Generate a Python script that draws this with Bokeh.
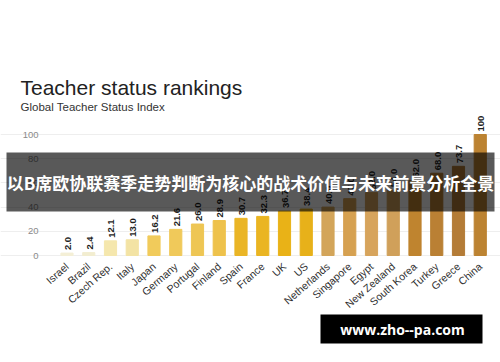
from bokeh.plotting import figure
from bokeh.models import Range1d, FixedTicker, Label, BoxAnnotation, ColumnDataSource
from bokeh.embed import file_html
from bokeh.resources import INLINE
from bokeh.core.properties import value

countries = ["Israel", "Brazil", "Czech Rep.", "Italy", "Japan", "Germany", "Portugal",
             "Finland", "Spain", "France", "UK", "US", "Netherlands", "Singapore", "Egypt",
             "New Zealand", "South Korea", "Turkey", "Greece", "China"]
index_values = [2.0, 2.4, 12.1, 13.0, 16.2, 21.6, 26.0, 28.9, 30.7, 32.3, 36.7, 38.4,
                40.0, 47.0, 52.0, 54.0, 62.0, 68.0, 73.7, 100.0]
value_labels = ["2.0", "2.4", "12.1", "13.0", "16.2", "21.6", "26.0", "28.9", "30.7", "32.3",
                "36.7", "38.4", "40.0", "47.0", "52.0", "54.0", "62.0", "68.0", "73.7", "100"]
y_ticks = [0, 20, 40, 60, 80, 100]
title_text = "Teacher status rankings"
subtitle_text = "Global Teacher Status Index"
banner_text = "以B席欧协联赛季走势判断为核心的战术价值与未来前景分析全景"
watermark_text = "www.zho--pa.com"

bar_colors = ["#f4efd6", "#f2edd0", "#f5e7ad", "#f3e3a4", "#f1cb5b", "#f0c95a", "#eec654",
              "#eec24c", "#eab526", "#eab522", "#e9b217", "#e7b11a", "#d3a55a", "#d6a151",
              "#d7a45c", "#d0a05a", "#bf842f", "#ba8034", "#b47c37", "#bc8332"]

W, H = 500, 362
# pixel geometry of the chart area (page pixels)
X0_PX, STEP_PX = 66.5, 21.75      # centre of first bar, distance between bars
Y0_PX, UNIT_PX = 255.0, 1.21      # baseline, pixels per index point

x_start = -X0_PX / STEP_PX
x_end = x_start + W / STEP_PX
y_start = -(H - Y0_PX) / UNIT_PX
y_end = Y0_PX / UNIT_PX

positions = list(range(len(countries)))
src = ColumnDataSource(dict(x=positions, top=index_values, lab=value_labels, color=bar_colors))

p = figure(width=W, height=H, output_backend="svg", toolbar_location=None,
           x_range=Range1d(x_start, x_end), y_range=Range1d(y_start, y_end),
           min_border_left=0, min_border_right=0, min_border_top=0, min_border_bottom=0)
p.outline_line_color = None
p.background_fill_color = "white"
p.border_fill_color = "white"

p.vbar(x="x", top="top", bottom=0, width=0.56, color="color", source=src)
p.text(x="x", y="top", text="lab", source=src, angle=1.5708, text_align="left",
       text_baseline="alphabetic", y_offset=-3, x_offset=1,
       text_font=value("Liberation Sans"), text_font_style="bold",
       text_font_size="9.5px", text_color="#1e1e1e")

left_edge = x_start + 48 / STEP_PX
right_edge = x_start + 492 / STEP_PX

p.xgrid.grid_line_color = None
p.ygrid.grid_line_color = "#eeeeee"
p.ygrid.ticker = FixedTicker(ticks=y_ticks)
p.ygrid.bounds = (left_edge, right_edge)

p.xaxis.fixed_location = -1
p.xaxis.ticker = FixedTicker(ticks=positions)
p.xaxis.major_label_overrides = {i: c for i, c in enumerate(countries)}
p.xaxis.major_label_orientation = 0.72
p.xaxis.axis_line_color = None
p.xaxis.major_tick_line_color = None
p.xaxis.minor_tick_line_color = None
p.xaxis.major_label_text_font = "Liberation Sans"
p.xaxis.major_label_text_font_size = "10.5px"
p.xaxis.major_label_text_color = "#2e2e2e"
p.xaxis.major_label_standoff = 2

p.yaxis.fixed_location = left_edge
p.yaxis.ticker = FixedTicker(ticks=y_ticks)
p.yaxis.axis_line_color = None
p.yaxis.major_tick_line_color = None
p.yaxis.minor_tick_line_color = None
p.yaxis.major_label_text_font = "Liberation Sans"
p.yaxis.major_label_text_font_size = "9.5px"
p.yaxis.major_label_text_color = "#8a8a8a"
p.yaxis.major_label_standoff = 4

def sy(page_y):
    return H - page_y

p.add_layout(Label(x=20, y=sy(87), x_units="screen", y_units="screen", text=title_text,
                   text_font="Liberation Sans", text_font_size="21px", text_color="#222222",
                   text_baseline="alphabetic"))
p.add_layout(Label(x=20, y=sy(106), x_units="screen", y_units="screen", text=subtitle_text,
                   text_font="Liberation Sans", text_font_size="11.5px", text_color="#333333",
                   text_baseline="alphabetic"))

p.add_layout(BoxAnnotation(left=6, right=494, top=sy(152), bottom=sy(211),
                           left_units="screen", right_units="screen", top_units="screen",
                           bottom_units="screen", fill_color="black", fill_alpha=0.65,
                           line_color=None))
p.add_layout(Label(x=250, y=sy(182), x_units="screen", y_units="screen", text=banner_text,
                   text_font="Noto Sans CJK SC", text_font_style="bold", text_font_size="17px",
                   text_color="white", text_align="center", text_baseline="middle"))

p.add_layout(BoxAnnotation(left=320, right=482, top=sy(314), bottom=sy(343),
                           left_units="screen", right_units="screen", top_units="screen",
                           bottom_units="screen", fill_color="black", fill_alpha=1.0,
                           line_color=None))
p.add_layout(Label(x=402, y=sy(329), x_units="screen", y_units="screen", text=watermark_text,
                   text_font="Open Sans", text_font_style="bold", text_font_size="14px",
                   text_color="white", text_align="center", text_baseline="middle"))

open("out.html", "w").write(file_html(p, INLINE))
